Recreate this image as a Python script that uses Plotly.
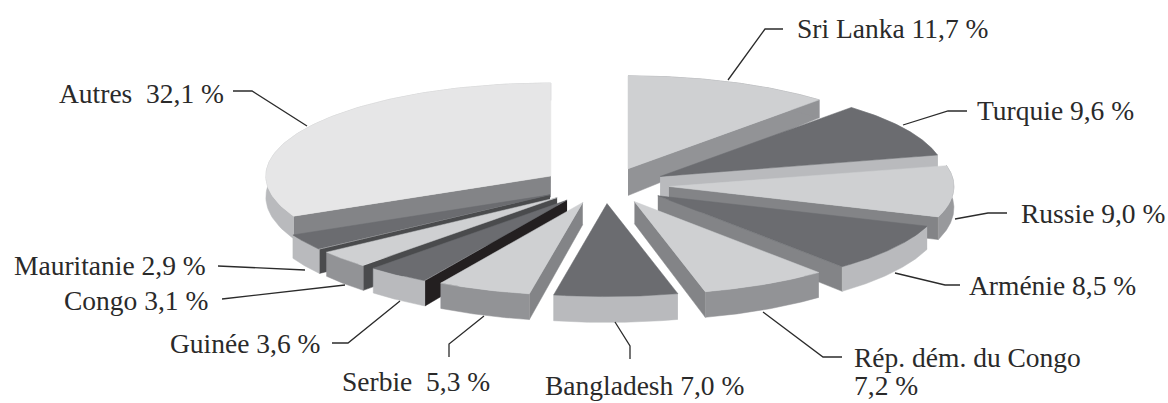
import numpy as np
import plotly.graph_objects as go

# Parts de chaque pays (%), dans le sens horaire depuis le haut du disque
categories = ["Sri Lanka", "Turquie", "Russie", "Arménie", "Rép. dém. du Congo", "Bangladesh",
              "Serbie", "Guinée", "Congo", "Mauritanie", "Autres"]
shares = [11.7, 9.6, 9.0, 8.5, 7.2, 7.0, 5.3, 3.6, 3.1, 2.9, 32.1]

# Teintes : dessus, bord extérieur, face de coupe
LIGHT, MID, PALE, DARK, CUT, SLATE, BLACK, WHITE = ("#cfd0d2", "#929396", "#b9babd", "#6b6c70",
                                                    "#838487", "#4a4b4d", "#231f20", "#e6e6e7")
top_colors = [LIGHT, DARK, LIGHT, DARK, LIGHT, DARK, LIGHT, DARK, LIGHT, DARK, WHITE]
rim_colors = [MID, PALE, "#98999c", PALE, MID, PALE, MID, PALE, MID, PALE, PALE]
cut_colors = [MID, PALE, CUT, CUT, CUT, PALE, CUT, BLACK, SLATE, SLATE, CUT]

# Projection du disque éclaté
CX, CY = 605.0, 185.6
RX, RY = 285.0, 93.0
PULL_X, PULL_Y = 64.0, 18.0

# Surépaisseur au sommet de la part (perspective de la part arrière)
apex_boost = [6, 0, 0, 0, 0, 0, 0, 0, 0, 0, 0]

# Ordre de peinture : de l'arrière vers l'avant
paint_order = [0, 1, 2, 3, 4, 10, 9, 8, 7, 6, 5]

# Filets de rappel et position des étiquettes
leaders = {
    "Sri Lanka": ([728, 765, 783], [80, 29, 29]),
    "Turquie": ([903, 948, 967], [125, 111, 111]),
    "Russie": ([955, 988, 1007], [219, 213, 213]),
    "Arménie": ([895, 945, 960], [273, 285, 285]),
    "Rép. dém. du Congo": ([763, 823, 842], [312, 357, 357]),
    "Bangladesh": ([615, 630, 630], [322, 346, 359]),
    "Serbie": ([484, 449, 449], [316, 344, 357]),
    "Guinée": ([400, 348, 332], [301, 343, 343]),
    "Congo": ([345, 222], [285, 299]),
    "Mauritanie": ([305, 218], [270, 266]),
    "Autres": ([307, 252, 233], [126, 91, 91]),
}
label_pos = {
    "Sri Lanka": (795, 28), "Turquie": (975, 110), "Russie": (1019, 213), "Arménie": (967, 285),
    "Rép. dém. du Congo": (852, 357), "Bangladesh": (543, 385), "Serbie": (340, 381),
    "Guinée": (168, 343), "Congo": (62, 300), "Mauritanie": (12, 265), "Autres": (57, 93),
}
wide_gap = {"Serbie", "Autres"}
wrapped = {"Rép. dém. du Congo": 385}


def depth(y):
    # Légère perspective : l'épaisseur croît vers l'avant
    return 18 + 0.04 * (np.asarray(y) - 100)


def poly(fig, xs, ys, color):
    fig.add_trace(go.Scatter(x=list(xs), y=list(ys), mode="lines", fill="toself", fillcolor=color,
                             line=dict(color=color, width=0.5), hoverinfo="skip", showlegend=False))


def side(fig, x, y, color, extra=None):
    d = depth(y)
    if extra is not None:
        d = d + extra
    poly(fig, np.r_[x, x[::-1]], np.r_[y, (y + d)[::-1]], color)


fig = go.Figure()
edges = np.r_[0, np.cumsum(shares)] / sum(shares) * 2 * np.pi

for i in paint_order:
    a0, a1 = edges[i], edges[i + 1]
    mid = (a0 + a1) / 2
    ox = CX + PULL_X * np.sin(mid)
    oy = CY - PULL_Y * np.cos(mid)
    t = np.linspace(a0, a1, 90)
    rx = ox + RX * np.sin(t)
    ry = oy - RY * np.cos(t)

    # Faces de coupe tournées vers l'observateur
    for ex, ey in [(rx[0], ry[0]), (rx[-1], ry[-1])]:
        centre_x, centre_y = rx.mean() - ox, ry.mean() - oy
        nx, ny = ey - oy, -(ex - ox)
        if nx * centre_x + ny * centre_y > 0:
            nx, ny = -nx, -ny
        if ny > 0:
            side(fig, np.array([ox, ex]), np.array([oy, ey]), cut_colors[i],
                 extra=np.array([apex_boost[i], 0.0]))

    side(fig, rx, ry, rim_colors[i])
    poly(fig, np.r_[ox, rx, ox], np.r_[oy, ry, oy], top_colors[i])

# Filets de rappel
for name in categories:
    lx, ly = leaders[name]
    fig.add_trace(go.Scatter(x=lx, y=ly, mode="lines", line=dict(color="#2b2b2b", width=1.3),
                             hoverinfo="skip", showlegend=False))


def label(x, y, text):
    fig.add_annotation(x=x, y=y, text=text, showarrow=False, xanchor="left", yanchor="middle",
                       align="left", font=dict(family="Liberation Serif", size=27.5, color="#2a2a2a"))


# Étiquettes
for name, share in zip(categories, shares):
    value = f"{share:.1f}".replace(".", ",") + " %"
    x, y = label_pos[name]
    if name in wrapped:
        label(x, y, name)
        label(x, wrapped[name], value)
    else:
        gap = "\u00a0 " if name in wide_gap else " "
        label(x, y, f"{name}{gap}{value}")

fig.update_layout(
    width=1168, height=403, margin=dict(l=0, r=0, t=0, b=0),
    paper_bgcolor="white", plot_bgcolor="white", showlegend=False,
    xaxis=dict(range=[0, 1168], visible=False, fixedrange=True),
    yaxis=dict(range=[403, 0], visible=False, fixedrange=True),
)
fig.write_html("out.html", config={"displayModeBar": False})
